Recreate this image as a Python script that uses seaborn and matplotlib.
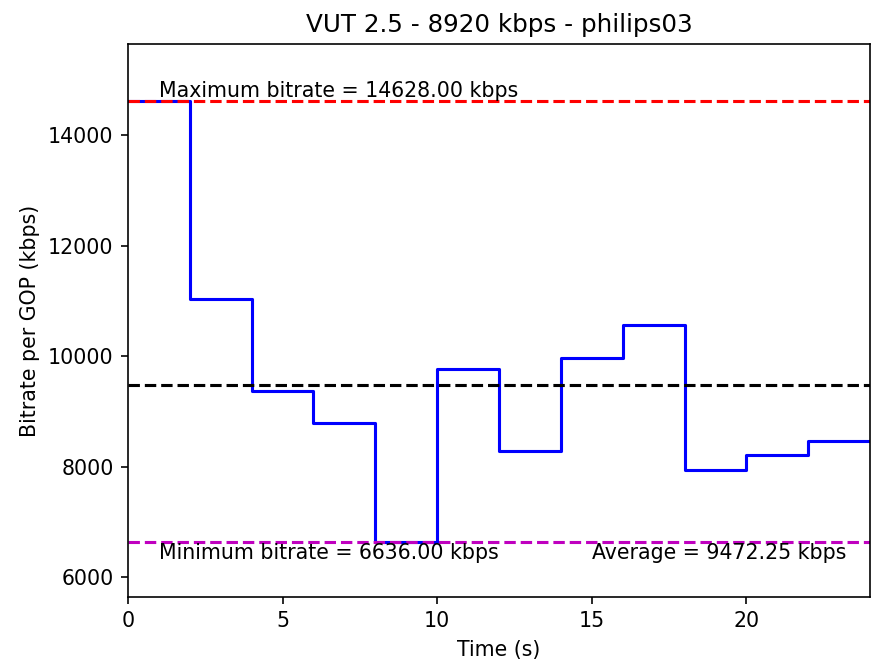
import pandas as pd
import matplotlib
matplotlib.use("Agg")
import matplotlib.pyplot as plt
import seaborn as sns

# GOP start times (s) and bitrate per GOP (kbps)
times = [0, 2, 4, 6, 8, 10, 12, 14, 16, 18, 20, 22]
bitrates = [14628, 11040, 9370, 8790, 6636, 9770, 8290, 9960, 10560, 7940, 8220, 8463]
duration = 24
title = "VUT 2.5 - 8920 kbps - philips03"

df = pd.DataFrame({"time": times + [duration], "bitrate": bitrates + [bitrates[-1]]})

max_br = max(bitrates)
min_br = min(bitrates)
avg_br = sum(bitrates) / len(bitrates)

DPI = 148
fig, ax = plt.subplots(figsize=(879 / DPI, 668 / DPI), dpi=DPI)
fig.subplots_adjust(left=0.1456, right=0.9898, top=0.9341, bottom=0.1063)

sns.lineplot(data=df, x="time", y="bitrate", drawstyle="steps-post", color="blue", ax=ax)
ax.axhline(max_br, color="r", linestyle="--")
ax.axhline(min_br, color="m", linestyle="--")
ax.axhline(avg_br, color="k", linestyle="--")

ax.text(1, max_br * 1.005, f"Maximum bitrate = {max_br:.2f} kbps")
ax.text(1, min_br * 0.955, f"Minimum bitrate = {min_br:.2f} kbps")
ax.text(15, min_br * 0.955, f"Average = {avg_br:.2f} kbps")

ax.set_xlim(0, duration)
ax.set_ylim(min_br * 0.85, max_br * 1.07)
ax.set_title(title)
ax.set_xlabel("Time (s)")
ax.set_ylabel("Bitrate per GOP (kbps)")

fig.savefig("out.png", dpi=DPI)
